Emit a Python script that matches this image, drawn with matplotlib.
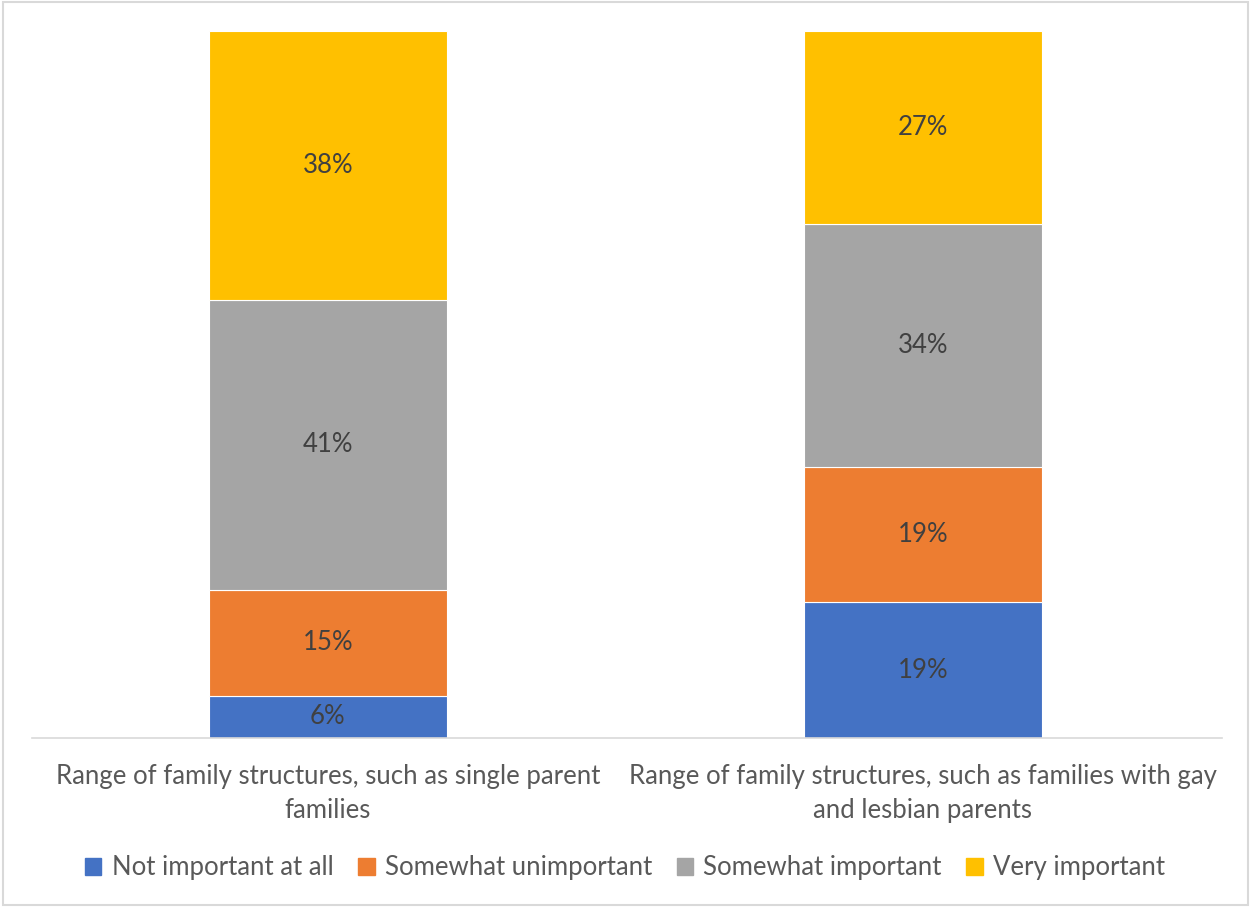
import matplotlib.pyplot as plt
import matplotlib.patches as mpatches
import numpy as np

plt.rcParams['font.family'] = ['Lato', 'DejaVu Sans']

categories = ['Range of family structures, such as single parent\nfamilies',
              'Range of family structures, such as families with gay\nand lesbian parents']
series = ['Not important at all', 'Somewhat unimportant', 'Somewhat important', 'Very important']
colors = ['#4472c4', '#ed7d31', '#a5a5a5', '#ffc000']
values = {
    'Not important at all': [6, 19],
    'Somewhat unimportant': [15, 19],
    'Somewhat important': [41, 34],
    'Very important': [38, 27],
}

fig = plt.figure(figsize=(12.5, 9.07), dpi=100)
ax = fig.add_axes([0.0256, 0.1863, 0.952, 0.7795])

x = np.arange(len(categories))
totals = np.sum([values[s] for s in series], axis=0)
bottom = np.zeros(len(categories))
for s, c in zip(series, colors):
    v = np.array(values[s], dtype=float)
    h = v / totals
    ax.bar(x, h, 0.4, bottom=bottom, color=c, edgecolor='white', linewidth=0.8)
    for xi, hi, bi, vi in zip(x, h, bottom, v):
        ax.text(xi, bi + hi / 2, f'{vi:.0f}%', ha='center', va='center',
                fontsize=18.5, color='#404040')
    bottom += h

ax.set_xlim(-0.497, 1.503)
ax.set_ylim(0, 1)
ax.set_yticks([])
ax.set_xticks(x)
ax.set_xticklabels(categories, fontsize=18.5, color='#595959', linespacing=1.45)
ax.tick_params(axis='x', length=0, pad=19)
for sp in ['top', 'right', 'left']:
    ax.spines[sp].set_visible(False)
ax.spines['bottom'].set_color('#d9d9d9')
ax.spines['bottom'].set_linewidth(1.2)

handles = [mpatches.Patch(color=c, label=s) for s, c in zip(series, colors)]
fig.legend(handles=handles, loc='center', bbox_to_anchor=(0.5, 1 - 868 / 907),
           ncol=4, frameon=False, fontsize=18.5, labelcolor='#595959',
           handlelength=0.65, handleheight=0.65, handletextpad=0.4, columnspacing=0.95)

fig.patches.append(mpatches.Rectangle((0.002, 0.002), 0.996, 0.996, transform=fig.transFigure,
                                      fill=False, edgecolor='#d9d9d9', linewidth=1.5))

fig.savefig('out.png', dpi=100)
